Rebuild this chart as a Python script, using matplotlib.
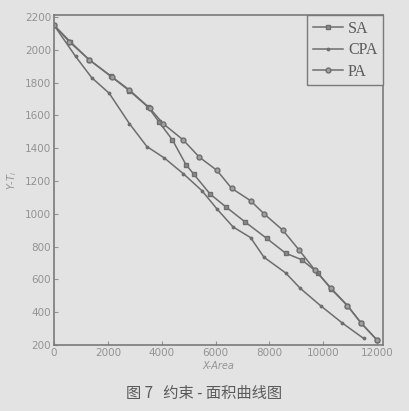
import numpy as np
import matplotlib.pyplot as plt

# constraint - area curves
sa_x = [0, 600, 1300, 2100, 2800, 3500, 3900, 4400, 4900, 5200, 5800, 6400,
        7100, 7900, 8600, 9200, 9800, 10300, 10900, 11400, 12000]
sa_y = [2150, 2050, 1940, 1840, 1750, 1650, 1560, 1450, 1300, 1240, 1120, 1040,
        950, 850, 760, 720, 640, 540, 440, 335, 230]

cpa_x = [0, 800, 1400, 2050, 2800, 3450, 4100, 4800, 5500, 6050, 6650, 7300,
         7800, 8600, 9150, 9900, 10700, 11500]
cpa_y = [2150, 1960, 1830, 1735, 1550, 1410, 1340, 1245, 1140, 1030, 920, 855,
         735, 640, 545, 440, 335, 240]

pa_x = [0, 560, 1300, 2150, 2800, 3550, 4050, 4800, 5400, 6050, 6600, 7300,
        7800, 8500, 9100, 9700, 10300, 10900, 11400, 12000]
pa_y = [2150, 2050, 1940, 1835, 1755, 1645, 1550, 1450, 1345, 1265, 1155, 1080,
        1000, 900, 780, 655, 545, 440, 335, 230]

x_ticks = [0, 2000, 4000, 6000, 8000, 10000, 12000]
y_ticks = [200, 400, 600, 800, 1000, 1200, 1400, 1600, 1800, 2000, 2200]

bg = '#e3e3e3'
line_c = '#6e6e6e'
text_c = '#939393'

fig = plt.figure(figsize=(4.09, 4.11), dpi=100, facecolor=bg)
ax = fig.add_axes([54/409, 1 - 345/411, (383-54)/409, (345-15)/411])
ax.set_facecolor(bg)

ax.plot(sa_x, sa_y, color=line_c, lw=1.1, marker='s', ms=2.8, mfc='#8a8a8a', mec=line_c, label='SA')
ax.plot(cpa_x, cpa_y, color=line_c, lw=1.1, marker='.', ms=3.5, label='CPA')
ax.plot(pa_x, pa_y, color=line_c, lw=1.1, marker='o', ms=3.5, mfc='#a0a0a0', mec=line_c, label='PA')

ax.set_xlim(0, 12220)
ax.set_ylim(200, 2212)
ax.set_xticks(x_ticks)
ax.set_yticks(y_ticks)
ax.tick_params(direction='in', length=3, width=0.8, colors=text_c, labelsize=7.5, pad=2)
for s in ax.spines.values():
    s.set_color('#7a7a7a')
    s.set_linewidth(1.2)

ax.set_xlabel('X-Area', fontsize=7, style='italic', color=text_c, labelpad=2)
ax.set_ylabel('Y-T$_i$', fontsize=7, style='italic', color=text_c, labelpad=4)

leg = ax.legend(loc='upper right', borderaxespad=0, fancybox=False, framealpha=1,
                facecolor=bg, edgecolor='#7a7a7a', handlelength=1.9, handletextpad=0.3,
                labelspacing=0.35, borderpad=0.35,
                prop={'family': 'Liberation Serif', 'size': 11.5})
for t in leg.get_texts():
    t.set_color('#5a5a5a')

fig.text(0.50, 1 - 393/411, '图 7   约束 - 面积曲线图', ha='center', va='center',
         fontsize=11, color='#5a5a5a', family=['Noto Sans CJK SC', 'DejaVu Sans'])

fig.savefig('out.png', dpi=100, facecolor=bg)
